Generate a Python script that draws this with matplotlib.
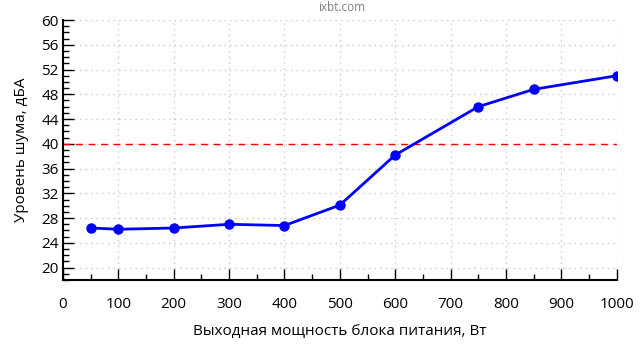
import matplotlib.pyplot as plt
from matplotlib.ticker import MultipleLocator

moshchnost = [50, 100, 200, 300, 400, 500, 600, 750, 850, 1000]
shum = [26.4, 26.2, 26.4, 27.0, 26.8, 30.1, 38.2, 46.0, 48.8, 51.0]
porog = 40

plt.rcParams["font.family"] = ["Open Sans", "DejaVu Sans"]

fig = plt.figure(figsize=(6.4, 3.6), dpi=100)
ax = fig.add_axes([0.0984, 0.2222, 0.8652, 0.7222])

ax.axhline(porog, color="red", linewidth=1, linestyle=(0, (5, 4)))
ax.plot(moshchnost, shum, color="blue", linewidth=2, marker="o", markersize=6.5)

ax.set_xlim(0, 1000)
ax.set_ylim(18, 60)
ax.xaxis.set_major_locator(MultipleLocator(100))
ax.xaxis.set_minor_locator(MultipleLocator(50))
ax.yaxis.set_major_locator(MultipleLocator(4))
ax.yaxis.set_minor_locator(MultipleLocator(1))
ax.set_yticks(range(20, 61, 4))

ax.tick_params(which="major", direction="in", length=8, width=1, labelsize=11, color="black")
ax.tick_params(which="minor", direction="in", length=4, width=1)
ax.tick_params(axis="x", pad=12)
ax.tick_params(axis="y", pad=3)

ax.spines["top"].set_visible(False)
ax.spines["right"].set_visible(False)
ax.spines["left"].set_linewidth(1.5)
ax.spines["bottom"].set_linewidth(1.5)

ax.grid(True, which="major", color="#c8c8c8", linestyle=(0, (1, 3)), linewidth=1)
ax.set_axisbelow(True)

ax.set_xlabel("Выходная мощность блока питания, Вт", fontsize=11, labelpad=9)
ax.set_ylabel("Уровень шума, дБА", fontsize=11, labelpad=9)

fig.text(0.534, 0.978, "ixbt.com", ha="center", va="center", fontsize=8.5, color="#808080")

plt.savefig("out.png", dpi=100)
